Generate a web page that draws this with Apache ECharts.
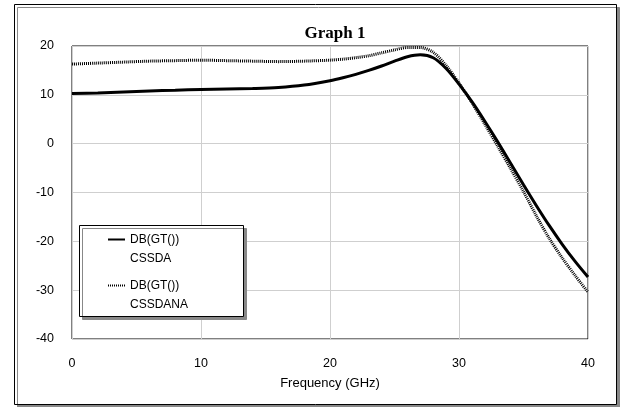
<!DOCTYPE html>
<html>
<head>
<meta charset="utf-8">
<script src="https://cdn.jsdelivr.net/npm/echarts@6/dist/echarts.min.js"></script>
<style>
html,body{margin:0;padding:0;background:#fff;}
#chart{width:622px;height:407px;}
</style>
</head>
<body>
<div id="chart"></div>
<script>
// Data
var titleText = 'Graph 1';
var xName = 'Frequency (GHz)';
var freqGHz = [0,2,4,6,8,10,12,14,16,18,20,21,22,23,24,25,26,27,28,29,30,31,32,33,34,35,36,37,38,39,40];
var cssdaDb = [10.25,10.4,10.6,10.8,10.95,11.1,11.2,11.3,11.5,12.0,12.9,13.5,14.2,15.0,15.9,16.9,17.8,18.2,17.6,15.4,12.2,8.6,4.6,0.4,-4.0,-8.4,-12.7,-16.8,-20.6,-24.1,-27.3];
var cssdanaDb = [16.3,16.5,16.7,16.9,17.0,17.1,17.0,16.9,16.8,16.9,17.1,17.3,17.6,18.0,18.6,19.2,19.7,19.7,18.7,16.0,12.4,8.4,4.0,-0.5,-5.1,-9.8,-14.8,-19.4,-23.4,-27.0,-30.4];
var seriesNames = ['DB(GT())\nCSSDA', 'DB(GT())\nCSSDANA'];
var xTicks = {min: 0, max: 40, interval: 10};
var yTicks = {min: -40, max: 20, interval: 10};

function pairs(xs, ys) { return xs.map(function (x, i) { return [x, ys[i]]; }); }

var font = 'Liberation Sans, Arial, sans-serif';
var chart = echarts.init(document.getElementById('chart'), null, {renderer: 'canvas'});
chart.setOption({
  animation: false,
  backgroundColor: '#fff',
  graphic: [
    {type: 'rect', z: -10, shape: {x: 14.5, y: 4.5, width: 602, height: 400},
     style: {fill: '#fff', stroke: '#000', lineWidth: 1, shadowColor: '#888', shadowOffsetX: 3, shadowOffsetY: 3, shadowBlur: 0}},
    {type: 'rect', z: 10, shape: {x: 79.5, y: 225.5, width: 164, height: 91},
     style: {fill: '#fff', stroke: '#000', lineWidth: 1, shadowColor: '#888', shadowOffsetX: 3, shadowOffsetY: 3, shadowBlur: 0}}
  ],
  title: {
    text: titleText, left: 330, textAlign: 'center', top: 20,
    textStyle: {fontFamily: 'Liberation Serif, Times New Roman, serif', fontWeight: 'bold', fontSize: 17, color: '#000'}
  },
  grid: {left: 72, right: 34, top: 46, bottom: 68, show: true, borderColor: '#000', borderWidth: 1, backgroundColor: 'transparent'},
  legend: {
    orient: 'vertical', left: 107, top: 211, padding: 0, z: 20,
    itemWidth: 17, itemHeight: 10, itemGap: -11,
    data: seriesNames,
    formatter: function (name) { return '\n' + name; },
    itemStyle: {opacity: 0},
    textStyle: {fontFamily: font, fontSize: 12, color: '#000', lineHeight: 19}
  },
  xAxis: {
    type: 'value', min: xTicks.min, max: xTicks.max, interval: xTicks.interval,
    name: xName, nameLocation: 'middle', nameGap: 38,
    nameTextStyle: {fontFamily: font, fontSize: 13, color: '#000'},
    axisLine: {show: false}, axisTick: {show: false},
    axisLabel: {fontFamily: font, fontSize: 12.5, color: '#000', margin: 18},
    splitLine: {show: true, lineStyle: {color: '#cfcfcf', width: 1}}
  },
  yAxis: {
    type: 'value', min: yTicks.min, max: yTicks.max, interval: yTicks.interval,
    axisLine: {show: false}, axisTick: {show: false},
    axisLabel: {fontFamily: font, fontSize: 12.5, color: '#000', margin: 18, padding: [6, 0, 0, 0]},
    splitLine: {show: true, lineStyle: {color: '#cfcfcf', width: 1}}
  },
  series: [
    {name: seriesNames[0], type: 'line', data: pairs(freqGHz, cssdaDb), smooth: 0.3, symbol: 'none',
     lineStyle: {color: '#000', width: 3, type: 'solid'}, itemStyle: {color: '#000'}, z: 3},
    {name: seriesNames[1], type: 'line', data: pairs(freqGHz, cssdanaDb), smooth: 0.3, symbol: 'none',
     lineStyle: {color: '#000', width: 3, type: [1, 1]}, itemStyle: {color: '#000'}, z: 2}
  ]
});
</script>
</body>
</html>
